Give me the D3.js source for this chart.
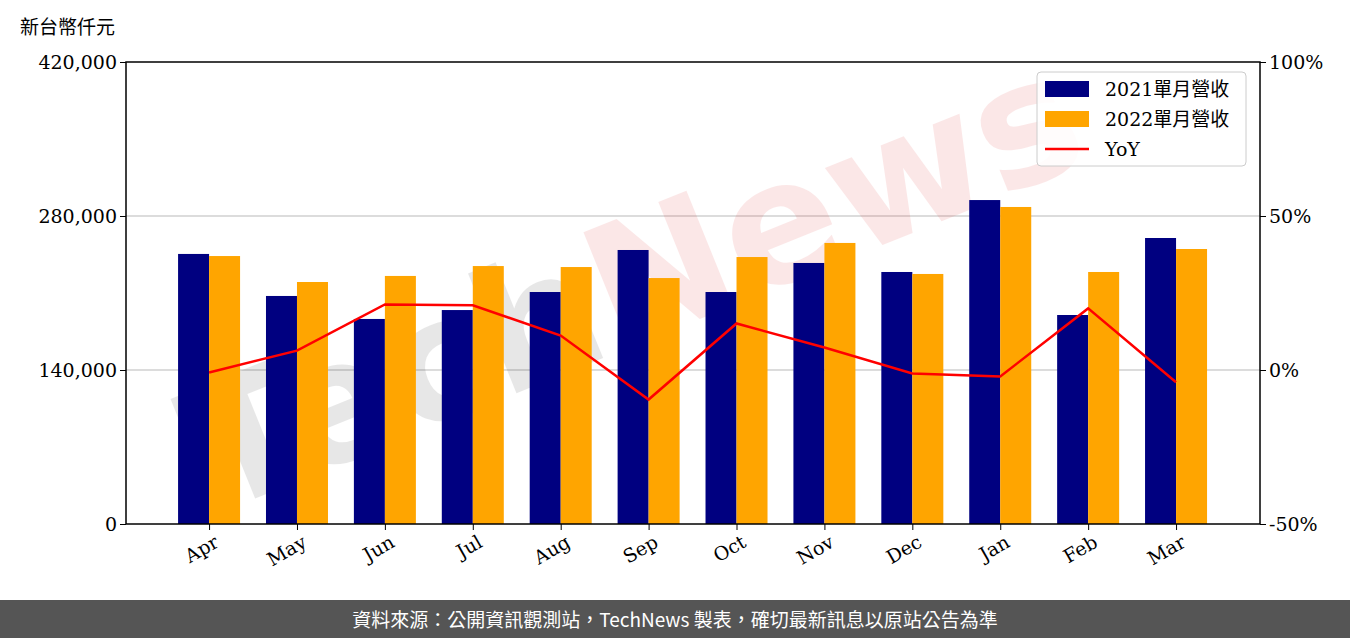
<!DOCTYPE html><html><head><meta charset="utf-8"><script src="https://cdn.jsdelivr.net/npm/d3@7"></script>
<style>body{margin:0;background:#fff}</style></head><body><svg id="c" width="1350" height="638"></svg>
<script>
const months=["Apr","May","Jun","Jul","Aug","Sep","Oct","Nov","Dec","Jan","Feb","Mar"];
const rev2021=[245500,207300,186400,194500,210900,249100,210900,237300,229100,294500,190000,260000];
const rev2022=[243600,220000,225500,234500,233600,223600,242700,255500,227300,288200,229100,250000];
const yoy=[-0.8,6.3,21.3,21.0,11.2,-9.6,15.1,7.3,-1.1,-2.1,20.0,-4.0];
const leftTicks=[0,140000,280000,420000];
const rightTicks=[-50,0,50,100];
const svg=d3.select("#c");
const L=126,R=1260,T=62,B=524;
const x=d3.scaleLinear().domain([-0.945,11.955]).range([L,R]);
const y=d3.scaleLinear().domain([0,420000]).range([B,T]);
const y2=d3.scaleLinear().domain([-50,100]).range([B,T]);
const bw=31;
const serif="DejaVu Serif, serif";
[140000,280000].forEach(v=>svg.append("line").attr("x1",L).attr("x2",R).attr("y1",y(v)).attr("y2",y(v)).attr("stroke","#d0d0d0").attr("stroke-width",1.5));
const wm=svg.append("text").attr("x",640).attr("y",340).attr("text-anchor","middle").attr("transform","rotate(-22,640,300)").attr("font-size",170).attr("font-family","DejaVu Sans").attr("font-weight","bold").attr("opacity",0.09);
wm.append("tspan").attr("fill","#000").text("Tech");wm.append("tspan").attr("fill","#d00").text("News");
svg.selectAll(".b1").data(rev2021).enter().append("rect").attr("x",(d,i)=>x(i)-bw).attr("width",bw).attr("y",d=>y(d)).attr("height",d=>B-y(d)).attr("fill","#000080");
svg.selectAll(".b2").data(rev2022).enter().append("rect").attr("x",(d,i)=>x(i)).attr("width",bw).attr("y",d=>y(d)).attr("height",d=>B-y(d)).attr("fill","#ffa500");
svg.append("path").datum(yoy).attr("d",d3.line().x((d,i)=>x(i)).y(d=>y2(d))).attr("fill","none").attr("stroke","red").attr("stroke-width",2.5);
svg.append("rect").attr("x",L).attr("y",T).attr("width",R-L).attr("height",B-T).attr("fill","none").attr("stroke","#000").attr("stroke-width",1.5);
const ax=svg.append("g").attr("transform",`translate(${L},0)`).call(d3.axisLeft(y).tickValues(leftTicks).tickFormat(d3.format(",")).tickSizeOuter(0).tickSize(6));
const ax2=svg.append("g").attr("transform",`translate(${R},0)`).call(d3.axisRight(y2).tickValues(rightTicks).tickFormat(d=>d+"%").tickSizeOuter(0).tickSize(6));
const ax3=svg.append("g").attr("transform",`translate(0,${B})`).call(d3.axisBottom(x).tickValues(d3.range(12)).tickFormat(i=>months[i]).tickSizeOuter(0).tickSize(6));
[ax,ax2,ax3].forEach(a=>{a.select(".domain").remove();a.selectAll("text").attr("font-family",serif).attr("font-size",19).attr("fill","#000");});
ax3.selectAll("text").attr("text-anchor","end").attr("dx","-0.1em").attr("dy","0.8em").attr("transform","rotate(-30)");
svg.append("text").attr("x",20).attr("y",34).attr("font-family","Noto Sans CJK TC").attr("font-size",19).text("新台幣仟元");
const lg=svg.append("g");
lg.append("rect").attr("x",1037).attr("y",72).attr("width",209).attr("height",94).attr("rx",4).attr("fill","#fff").attr("fill-opacity",0.85).attr("stroke","#ccc");
const items=[["2021單月營收","#000080"],["2022單月營收","#ffa500"],["YoY","red"]];
items.forEach((it,i)=>{const cy=89+i*30;
 if(i<2)lg.append("rect").attr("x",1045).attr("y",cy-8).attr("width",44).attr("height",16).attr("fill",it[1]);
 else lg.append("line").attr("x1",1045).attr("x2",1089).attr("y1",cy).attr("y2",cy).attr("stroke","red").attr("stroke-width",2.5);
 lg.append("text").attr("x",1105).attr("y",cy+7).attr("font-family","DejaVu Serif, Noto Sans CJK TC").attr("font-size",19).text(it[0]);});
svg.append("rect").attr("x",0).attr("y",600).attr("width",1350).attr("height",38).attr("fill","#555");
svg.append("text").attr("x",675).attr("y",627).attr("text-anchor","middle").attr("fill","#fff").attr("font-family","Noto Sans CJK TC").attr("font-size",19).text("資料來源：公開資訊觀測站，TechNews 製表，確切最新訊息以原站公告為準");
</script></body></html>
